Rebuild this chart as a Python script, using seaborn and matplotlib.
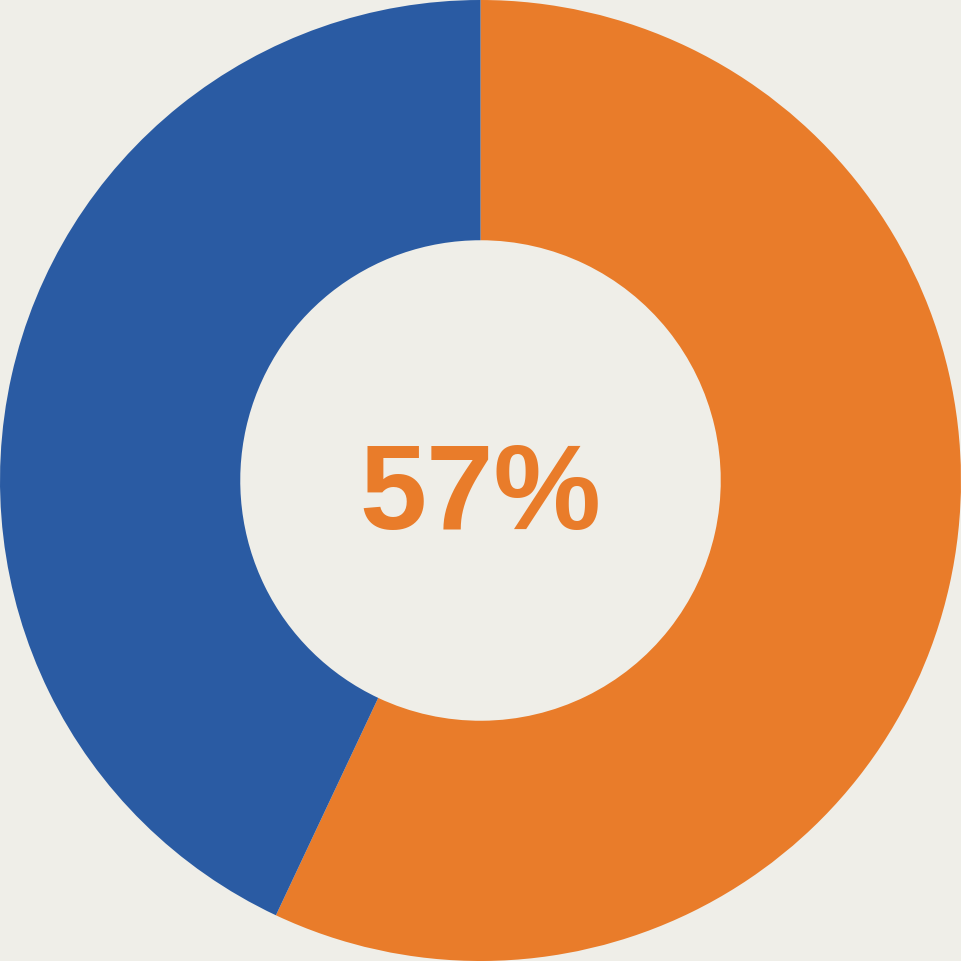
import seaborn as sns
import matplotlib.pyplot as plt

# donut values (percent)
labels = ['Sim', 'Não']
values = [57, 43]
colors = ['#E97C2A', '#2A5BA3']
center_text = '57%'

bg = '#EFEEE8'
sns.set_theme(style='white')
plt.rcParams['font.family'] = ['Liberation Sans', 'DejaVu Sans']

fig = plt.figure(figsize=(9.61, 9.61), dpi=100, facecolor=bg)
ax = fig.add_axes([0, 0, 1, 1])
ax.set_facecolor(bg)

ax.pie(values, colors=colors, startangle=90, counterclock=False, radius=1.0,
       wedgeprops=dict(width=0.5, linewidth=0))
# baseline placed just under the centre
ax.text(0, -0.1, center_text, ha='center', va='baseline', fontsize=87,
        fontweight='bold', color=colors[0])

ax.set_xlim(-1.0, 1.0)
ax.set_ylim(-1.0, 1.0)
ax.set_aspect('equal')
ax.axis('off')

plt.savefig('out.png', dpi=100, facecolor=bg)
